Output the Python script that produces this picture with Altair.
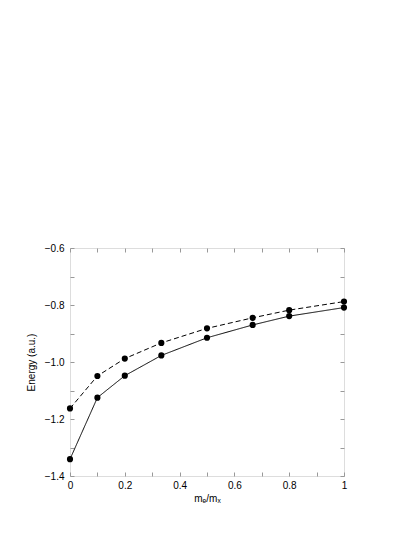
import altair as alt
import pandas as pd

# Data
mass_ratio = [0.0, 0.1, 0.2, 1/3, 0.5, 2/3, 0.8, 1.0]
energy_solid = [-1.341, -1.125, -1.048, -0.977, -0.915, -0.870, -0.839, -0.809]
energy_dashed = [-1.163, -1.049, -0.988, -0.933, -0.882, -0.845, -0.818, -0.788]

x_ticks = [0.0, 0.1, 0.2, 0.3, 0.4, 0.5, 0.6, 0.7, 0.8, 0.9, 1.0]
y_ticks = [-1.4, -1.3, -1.2, -1.1, -1.0, -0.9, -0.8, -0.7, -0.6]

rows = []
for xv, s, d in zip(mass_ratio, energy_solid, energy_dashed):
    rows.append({"x": xv, "E": s, "series": "solid"})
    rows.append({"x": xv, "E": d, "series": "dashed"})
df = pd.DataFrame(rows)

FONT = "Liberation Sans"
FRAME = "#999999"

xscale = alt.Scale(domain=[0, 1], nice=False, zero=False)
yscale = alt.Scale(domain=[-1.4, -0.6], nice=False, zero=False)

x_label_expr = "round(datum.value*10) % 2 == 0 ? format(datum.value, '~g') : ''"
y_label_expr = "abs(round(datum.value*10)) % 2 == 0 ? format(datum.value, '.1f') : ''"

common_axis = dict(
    domain=False, grid=False, tickColor=FRAME, tickSize=4, offset=-4,
    labelFont=FONT, labelFontSize=10, labelColor="black",
    titleFont=FONT, titleFontSize=10, titleFontWeight="normal", titleColor="black",
)

lines = alt.Chart(df).mark_line(color="black", strokeWidth=1).encode(
    x=alt.X("x:Q", scale=xscale,
            axis=alt.Axis(orient="bottom", values=x_ticks, labelExpr=x_label_expr,
                          labelPadding=4, title="mₑ/mₓ", titlePadding=3,
                          labelFlush=False, labelOverlap=False, **common_axis)),
    y=alt.Y("E:Q", scale=yscale,
            axis=alt.Axis(orient="left", values=y_ticks, labelExpr=y_label_expr,
                          labelPadding=6, title="Energy (a.u.)", titlePadding=8,
                          labelFlush=False, labelOverlap=False, **common_axis)),
    strokeDash=alt.StrokeDash("series:N",
                              scale=alt.Scale(domain=["solid", "dashed"], range=[[1, 0], [5, 3]]),
                              legend=None),
    detail="series:N",
)

points = alt.Chart(df).mark_point(filled=True, shape="circle", color="black", size=38, opacity=1).encode(
    x=alt.X("x:Q", scale=xscale,
            axis=alt.Axis(orient="top", values=x_ticks, labels=False, title=None, **common_axis)),
    y=alt.Y("E:Q", scale=yscale,
            axis=alt.Axis(orient="right", values=y_ticks, labels=False, title=None, **common_axis)),
)

chart = alt.layer(lines, points).resolve_axis(x="independent", y="independent").properties(
    width=274, height=228,
    padding={"left": 62, "top": 240, "right": 20, "bottom": 50},
    autosize=alt.AutoSizeParams(type="none"),
).configure_view(stroke=FRAME, strokeWidth=1).configure(background="white")

chart.save("out.html", embed_options={"renderer": "svg", "actions": False})
